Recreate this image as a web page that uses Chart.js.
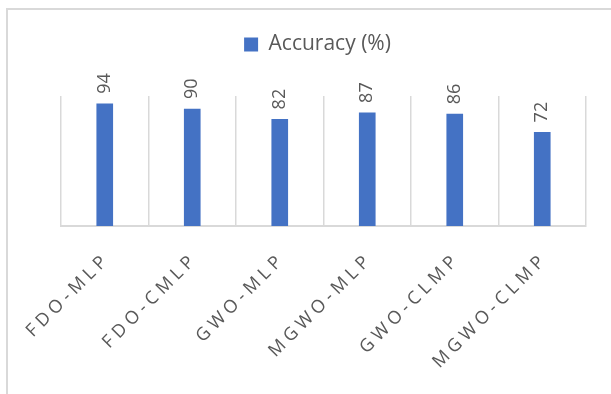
<!DOCTYPE html>
<html>
<head>
<meta charset="utf-8">
<title>Accuracy (%)</title>
<script src="https://cdn.jsdelivr.net/npm/chart.js@4.4.1/dist/chart.umd.min.js"></script>
<style>
  body { margin: 0; background: #fff; }
  #wrap { position: relative; width: 611px; height: 394px; overflow: hidden; }
  /* the outer chart frame, only its left and top edges fall inside the picture */
  #frame { position: absolute; left: 6px; top: 8px; width: 700px; height: 500px; border: 2px solid #d9d9d9; }
  canvas { position: absolute; left: 0; top: 0; }
</style>
</head>
<body>
<div id="wrap">
  <div id="frame"></div>
  <canvas id="accChart" width="611" height="394"></canvas>
</div>
<script>
// Data
const methods = ["FDO-MLP", "FDO-CMLP", "GWO-MLP", "MGWO-MLP", "GWO-CLMP", "MGWO-CLMP"];
const accuracy = [94, 90, 82, 87, 86, 72];
const seriesName = "Accuracy (%)";

const textGrey = "#595959";
const lineGrey = "#d9d9d9";

// extra room between legend and plot, legend nudged a bit left
const legendGap = {
  id: "legendGap",
  beforeInit(chart) {
    const fit = chart.legend.fit;
    chart.legend.fit = function () {
      fit.call(this);
      this.height += 31;
    };
  },
  afterLayout(chart) {
    chart.legend.left -= 6;
    chart.legend.right -= 6;
  }
};

// value labels written upwards above each bar
const barValues = {
  id: "barValues",
  afterDatasetsDraw(chart) {
    const ctx = chart.ctx;
    const values = chart.data.datasets[0].data;
    ctx.save();
    ctx.fillStyle = textGrey;
    ctx.font = "18px 'Open Sans'";
    ctx.textAlign = "left";
    ctx.textBaseline = "middle";
    chart.getDatasetMeta(0).data.forEach((bar, i) => {
      ctx.save();
      ctx.translate(bar.x, bar.y - 10);
      ctx.rotate(-Math.PI / 2);
      ctx.fillText(String(values[i]), 0, 0);
      ctx.restore();
    });
    ctx.restore();
  }
};

// slanted, letter-spaced category labels under the axis
const slantedLabels = {
  id: "slantedLabels",
  afterDraw(chart) {
    const xs = chart.scales.x;
    const ctx = chart.ctx;
    ctx.save();
    ctx.fillStyle = textGrey;
    ctx.font = "18px 'Open Sans'";
    ctx.letterSpacing = "4.5px";
    ctx.textAlign = "right";
    ctx.textBaseline = "alphabetic";
    chart.data.labels.forEach((lab, i) => {
      ctx.save();
      ctx.translate(xs.getPixelForValue(i) + 6, xs.top + 34);
      ctx.rotate(-Math.PI / 4);
      ctx.fillText(lab, 0, 0);
      ctx.restore();
    });
    ctx.restore();
  }
};

new Chart(document.getElementById("accChart"), {
  type: "bar",
  data: {
    labels: methods,
    datasets: [
      {
        label: seriesName,
        data: accuracy,
        backgroundColor: "#4472c4",
        borderWidth: 0,
        barThickness: 16
      }
    ]
  },
  options: {
    responsive: false,
    animation: false,
    layout: {
      padding: { top: 24, left: 61, right: 25, bottom: 168 }
    },
    plugins: {
      legend: {
        position: "top",
        labels: {
          boxWidth: 14,
          boxHeight: 14,
          padding: 10,
          color: textGrey,
          font: { family: "'Open Sans'", size: 21 }
        }
      },
      tooltip: { enabled: false }
    },
    scales: {
      x: {
        grid: { offset: true, color: lineGrey, lineWidth: 1.5, drawTicks: false },
        border: { color: lineGrey, width: 2 },
        ticks: { display: false }
      },
      y: {
        display: false,
        min: 0,
        max: 100
      }
    }
  },
  plugins: [legendGap, barValues, slantedLabels]
});
</script>
</body>
</html>
